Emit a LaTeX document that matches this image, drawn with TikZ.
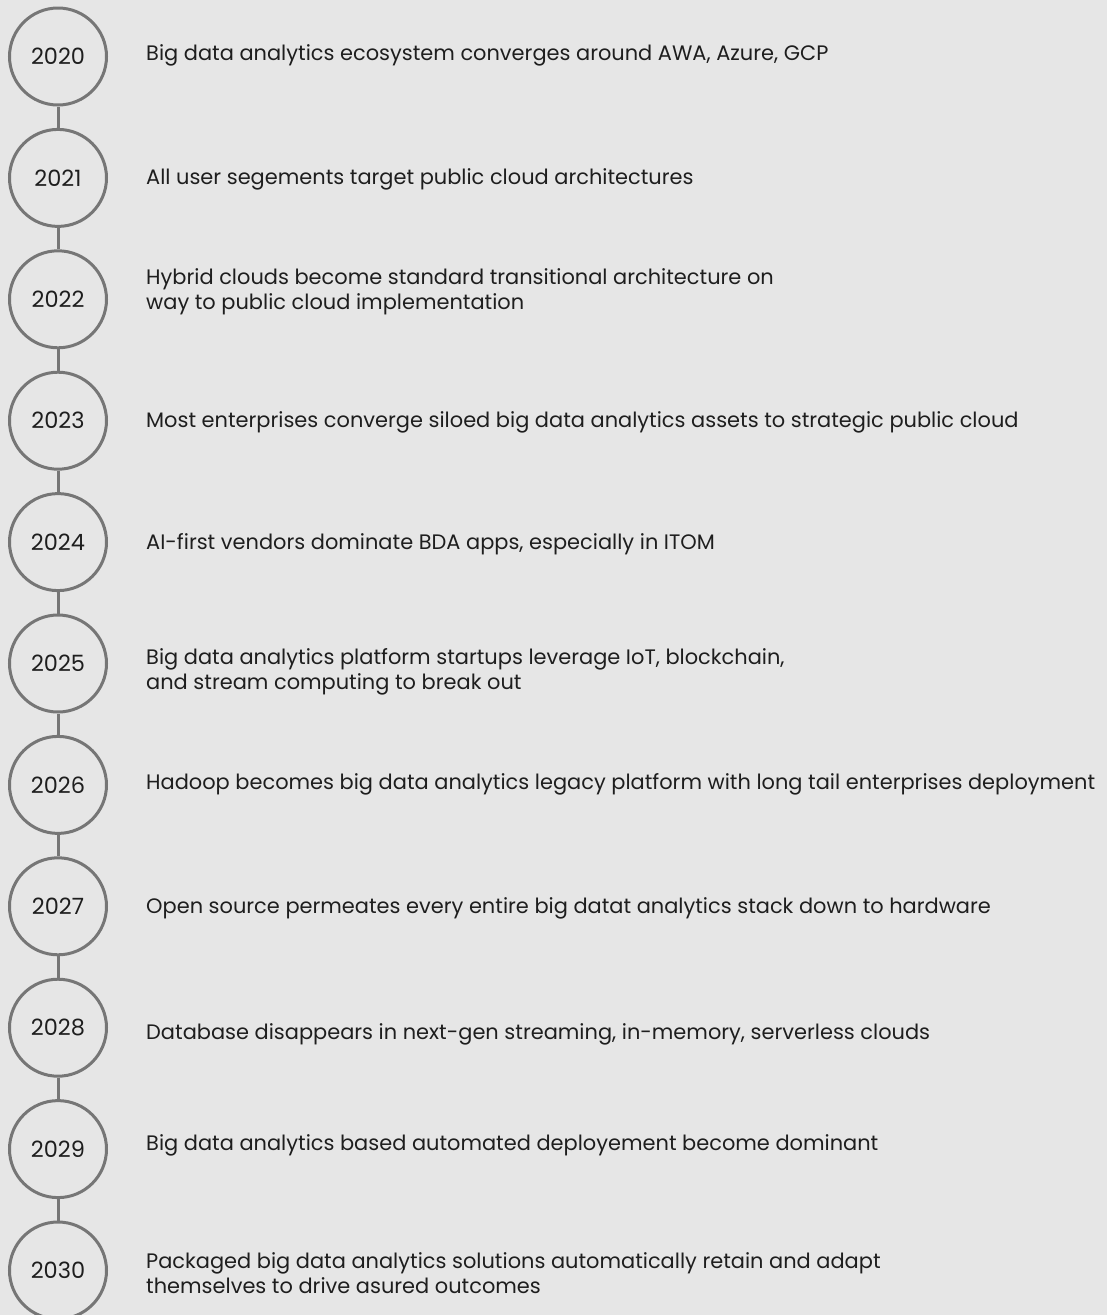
\documentclass[tikz,border=0pt]{standalone}
\usepackage{fontspec}
\setmainfont{Poppins}
\definecolor{bgc}{HTML}{E6E6E6}
\definecolor{circc}{HTML}{767676}
\definecolor{txtc}{HTML}{1E1E1E}
\newlength\mylen
\newlength\mylenb
\begin{document}
\settowidth{\mylen}{\fontsize{10}{12}\selectfont Hadoop becomes big data analytics legacy platform with long tail enterprises deployment}%
\settowidth{\mylenb}{\fontsize{10}{12}\selectfont 2020}%
\begin{tikzpicture}[x=1pt,y=-1pt]
\pgfmathsetmacro\fsT{10*949/\mylen}
\pgfmathsetmacro\fsY{10*54/\mylenb}
\tikzset{
  yearc/.style={circle, draw=circc, line width=3pt, minimum size=97pt, inner sep=0pt, text=txtc, font=\fontsize{\fsY}{\fsY}\selectfont},
  desc/.style={anchor=base west, inner sep=0pt, align=left, text=txtc, font=\fontsize{\fsT}{25}\selectfont},
  link/.style={draw=circc, line width=3pt}
}
\useasboundingbox[fill=bgc] (0,0) rectangle (1107,1315);
\foreach \i/\yr in {0/2020,1/2021,2/2022,3/2023,4/2024,5/2025,6/2026,7/2027,8/2028,9/2029,10/2030}{
  \node[yearc] (c\i) at (58,{56.5+121.4*\i}) {\yr};
}
\foreach \i [evaluate=\i as \j using int(\i+1)] in {0,...,9}{
  \draw[link] (c\i) -- (c\j);
}
\node[desc] (t0) at (146,60) {Big data analytics ecosystem converges around AWA, Azure, GCP};
\node[desc] (t1) at (146,184) {All user segements target public cloud architectures};
\node[desc] (t2) at (146,309) {Hybrid clouds become standard transitional architecture on\\way to public cloud implementation};
\node[desc] (t3) at (146,427) {Most enterprises converge siloed big data analytics assets to strategic public cloud};
\node[desc] (t4) at (146,549) {AI-first vendors dominate BDA apps, especially in ITOM};
\node[desc] (t5) at (146,689) {Big data analytics platform startups leverage IoT, blockchain,\\and stream computing to break out};
\node[desc] (t6) at (146,789) {Hadoop becomes big data analytics legacy platform with long tail enterprises deployment};
\node[desc] (t7) at (146,913) {Open source permeates every entire big datat analytics stack down to hardware};
\node[desc] (t8) at (146,1039) {Database disappears in next-gen streaming, in-memory, serverless clouds};
\node[desc] (t9) at (146,1150) {Big data analytics based automated deployement become dominant};
\node[desc] (t10) at (146,1293) {Packaged big data analytics solutions automatically retain and adapt\\themselves to drive asured outcomes};
\end{tikzpicture}
\end{document}
